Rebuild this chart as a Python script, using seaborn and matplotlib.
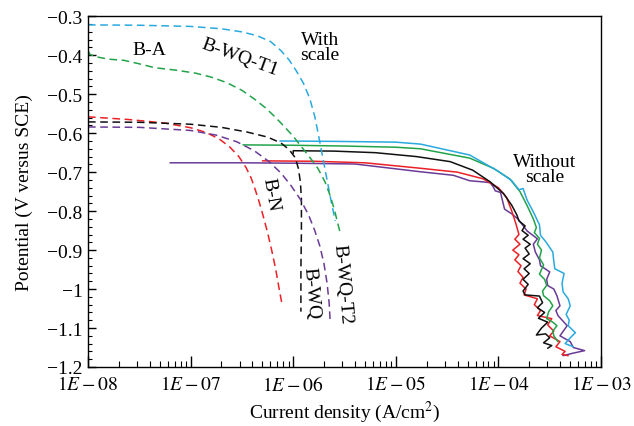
import numpy as np
import pandas as pd
import seaborn as sns
import matplotlib
matplotlib.use("Agg")
import matplotlib.pyplot as plt
from matplotlib.ticker import LogLocator, MultipleLocator, FuncFormatter

# Curvas de polarizacion: log10(I) [A/cm2] y potencial [V vs SCE]
# Con cascarilla (discontinuas)
wq_t1_logi = [-8.00, -7.50, -7.00, -6.70, -6.50, -6.35, -6.22, -6.12, -6.04, -5.97, -5.90, -5.84, -5.79,
              -5.75, -5.71, -5.67, -5.63, -5.59]
wq_t1_e = [-0.322, -0.323, -0.326, -0.332, -0.340, -0.350, -0.365, -0.388, -0.412, -0.440, -0.472, -0.510, -0.557,
           -0.610, -0.665, -0.720, -0.775, -0.825]

a_logi = [-8.00, -7.98, -7.90, -7.80, -7.65, -7.50, -7.35, -7.15, -6.95, -6.80, -6.65, -6.50, -6.38, -6.27,
          -6.17, -6.08, -6.00, -5.91, -5.83, -5.76, -5.69, -5.64, -5.60, -5.57, -5.54]
a_e = [-0.388, -0.398, -0.405, -0.410, -0.413, -0.422, -0.432, -0.438, -0.446, -0.456, -0.470, -0.490, -0.512, -0.535,
       -0.560, -0.585, -0.608, -0.638, -0.665, -0.690, -0.725, -0.760, -0.795, -0.827, -0.858]

n_logi = [-8.00, -7.60, -7.25, -7.00, -6.85, -6.72, -6.62, -6.53, -6.46, -6.41, -6.37, -6.33, -6.29, -6.25,
          -6.21, -6.17, -6.14, -6.11]
n_e = [-0.558, -0.565, -0.574, -0.586, -0.598, -0.615, -0.635, -0.660, -0.688, -0.715, -0.745, -0.778, -0.815, -0.855,
       -0.900, -0.950, -0.995, -1.038]

wq_logi = [-8.00, -7.50, -7.00, -6.70, -6.45, -6.25, -6.12, -6.04, -5.98, -5.95, -5.93, -5.92, -5.92, -5.925, -5.925]
wq_e = [-0.571, -0.572, -0.577, -0.585, -0.597, -0.610, -0.625, -0.642, -0.663, -0.690, -0.725, -0.770, -0.850,
        -0.950, -1.058]

wq_t2_logi = [-8.00, -7.50, -7.00, -6.75, -6.55, -6.38, -6.24, -6.12, -6.02, -5.93, -5.85, -5.79, -5.74, -5.70,
              -5.67, -5.65, -5.64]
wq_t2_e = [-0.584, -0.585, -0.593, -0.605, -0.622, -0.645, -0.672, -0.702, -0.735, -0.770, -0.810, -0.850, -0.890,
           -0.935, -0.985, -1.035, -1.081]

# Sin cascarilla (continuas)
k_logi = [-6.00, -6.00, -5.60, -5.20, -4.80, -4.47, -4.25, -4.08, -3.95, -3.87, -3.82, -3.80, -3.74, -3.77,
          -3.71, -3.76, -3.69, -3.74, -3.70, -3.76, -3.69, -3.75, -3.70, -3.76, -3.71, -3.76, -3.74, -3.60,
          -3.57, -3.62, -3.55, -3.61, -3.52, -3.58, -3.63, -3.54, -3.50, -3.56, -3.48, -3.52]
k_e = [-0.652, -0.645, -0.646, -0.650, -0.660, -0.673, -0.695, -0.725, -0.755, -0.785, -0.810, -0.825, -0.838, -0.850,
       -0.862, -0.872, -0.885, -0.895, -0.910, -0.922, -0.935, -0.948, -0.960, -0.975, -0.988, -1.005, -1.015, -1.018,
       -1.035, -1.048, -1.060, -1.075, -1.085, -1.100, -1.118, -1.115, -1.125, -1.138, -1.145, -1.152]

r_logi = [-6.30, -5.80, -5.30, -4.76, -4.40, -4.15, -4.00, -3.92, -3.87, -3.83, -3.80, -3.84, -3.79, -3.86,
          -3.80, -3.84, -3.78, -3.81, -3.76, -3.79, -3.73, -3.75, -3.62, -3.65, -3.59, -3.62, -3.48, -3.52,
          -3.46, -3.50, -3.40, -3.44, -3.35, -3.38, -3.32]
r_e = [-0.671, -0.672, -0.676, -0.690, -0.700, -0.717, -0.740, -0.765, -0.800, -0.832, -0.860, -0.872, -0.885, -0.900,
       -0.912, -0.925, -0.940, -0.955, -0.970, -0.985, -1.000, -1.015, -1.025, -1.040, -1.055, -1.068, -1.076, -1.092,
       -1.108, -1.120, -1.135, -1.148, -1.160, -1.168, -1.171]

g_logi = [-6.49, -6.00, -5.50, -5.00, -4.76, -4.28, -4.05, -3.89, -3.79, -3.72, -3.66, -3.63, -3.65, -3.60,
          -3.62, -3.58, -3.60, -3.56, -3.60, -3.55, -3.53, -3.57, -3.56, -3.50, -3.47, -3.51, -3.53, -3.47,
          -3.43, -3.47, -3.46, -3.42]
g_e = [-0.630, -0.631, -0.633, -0.636, -0.640, -0.664, -0.690, -0.717, -0.750, -0.786, -0.820, -0.842, -0.855, -0.870,
       -0.885, -0.900, -0.920, -0.938, -0.962, -0.975, -0.991, -1.005, -1.017, -1.030, -1.043, -1.058, -1.076, -1.085,
       -1.094, -1.108, -1.120, -1.135]

c_logi = [-6.13, -5.60, -5.00, -4.76, -4.28, -4.00, -3.87, -3.80, -3.76, -3.72, -3.66, -3.60, -3.59, -3.54,
          -3.47, -3.46, -3.45, -3.36, -3.38, -3.37, -3.32, -3.30, -3.34, -3.31, -3.32, -3.25, -3.30, -3.35, -3.27]
c_e = [-0.620, -0.621, -0.623, -0.628, -0.656, -0.698, -0.722, -0.745, -0.742, -0.772, -0.802, -0.835, -0.862, -0.878,
       -0.905, -0.930, -0.948, -0.960, -0.985, -1.007, -1.025, -1.043, -1.065, -1.080, -1.094, -1.112, -1.125, -1.140, -1.148]

p_logi = [-7.20, -6.50, -6.00, -5.40, -4.76, -4.44, -4.28, -4.15, -4.08, -4.05, -4.03, -3.98, -3.94, -3.87,
          -3.81, -3.72, -3.62, -3.66, -3.64, -3.60, -3.59, -3.50, -3.53, -3.52, -3.46, -3.43, -3.40, -3.44,
          -3.42, -3.33, -3.36, -3.40, -3.30, -3.27, -3.16, -3.28, -3.37]
p_e = [-0.676, -0.676, -0.677, -0.679, -0.699, -0.708, -0.722, -0.725, -0.727, -0.738, -0.748, -0.752, -0.795, -0.807,
       -0.820, -0.851, -0.871, -0.885, -0.905, -0.925, -0.940, -0.956, -0.975, -0.991, -1.000, -1.017, -1.043, -1.055,
       -1.068, -1.094, -1.105, -1.120, -1.135, -1.150, -1.158, -1.165, -1.171]

CYAN = "#29a9df"
GREEN = "#22a34a"
RED = "#ec2027"
BLACK = "#111111"
PURPLE = "#6a3b96"

sns.set_style("ticks")
plt.rcParams["font.family"] = ["Liberation Serif", "DejaVu Serif"]
plt.rcParams["mathtext.fontset"] = "stix"
plt.rcParams["text.color"] = "black"
plt.rcParams["axes.labelcolor"] = "black"

fig = plt.figure(figsize=(6.34, 4.27), dpi=100)
ax = fig.add_axes([0.1388, 0.1382, 0.8092, 0.8213])

dashed = [(wq_t1_logi, wq_t1_e, CYAN), (a_logi, a_e, GREEN), (n_logi, n_e, RED),
          (wq_logi, wq_e, BLACK), (wq_t2_logi, wq_t2_e, PURPLE)]
solid = [(p_logi, p_e, PURPLE), (r_logi, r_e, RED), (g_logi, g_e, GREEN),
         (c_logi, c_e, CYAN), (k_logi, k_e, BLACK)]

for logi, e, col in solid:
    df = pd.DataFrame({"i": 10 ** np.array(logi), "e": e})
    sns.lineplot(data=df, x="i", y="e", sort=False, estimator=None, color=col, lw=1.1, ax=ax)

for logi, e, col in dashed:
    df = pd.DataFrame({"i": 10 ** np.array(logi), "e": e})
    sns.lineplot(data=df, x="i", y="e", sort=False, estimator=None, color=col, lw=1.1,
                 linestyle=(0, (5, 3)), ax=ax)

ax.set_xscale("log")
ax.set_xlim(1e-8, 1e-3)
ax.set_ylim(-1.2, -0.3)

ax.xaxis.set_major_locator(LogLocator(base=10, numticks=10))
ax.xaxis.set_minor_locator(LogLocator(base=10, subs=np.arange(2, 10), numticks=20))
ax.xaxis.set_major_formatter(FuncFormatter(lambda v, p: r"$1E-%02d$" % round(-np.log10(v))))
ax.yaxis.set_major_locator(MultipleLocator(0.1))
ax.yaxis.set_minor_locator(MultipleLocator(0.02))
ax.yaxis.set_major_formatter(FuncFormatter(lambda v, p: "\u2212" + ("%g" % round(abs(v), 2))))

ax.tick_params(axis="both", which="both", direction="in", labelsize=14, colors="black")
ax.tick_params(axis="x", which="major", length=8, width=1, pad=6)
ax.tick_params(axis="x", which="minor", length=4, width=0.8)
ax.tick_params(axis="y", which="major", length=6, width=1, pad=4)
ax.tick_params(axis="y", which="minor", length=3, width=0.8)
for s in ax.spines.values():
    s.set_visible(True)
    s.set_linewidth(1)
    s.set_color("black")

ax.set_xlabel("Current density (A/cm$^2$)", fontsize=14, labelpad=3)
ax.set_ylabel("Potential (V versus SCE)", fontsize=14, labelpad=10)

ax.text(10 ** -7.40, -0.384, "B-A", fontsize=14, ha="center", va="center")
ax.text(10 ** -6.52, -0.405, "B-WQ-T1", fontsize=14, ha="center", va="center", rotation=-20)
ax.text(10 ** -5.74, -0.379, "With\nscale", fontsize=14, ha="center", va="center", linespacing=0.9)
ax.text(10 ** -3.55, -0.692, "Without\nscale", fontsize=14, ha="center", va="center", linespacing=0.9)
ax.text(10 ** -6.22, -0.756, "B-N", fontsize=14, ha="center", va="center", rotation=-80)
ax.text(10 ** -5.83, -1.008, "B-WQ", fontsize=14, ha="center", va="center", rotation=-85)
ax.text(10 ** -5.52, -0.986, "B-WQ-T2", fontsize=14, ha="center", va="center", rotation=-85)

fig.savefig("out.png", dpi=100)
